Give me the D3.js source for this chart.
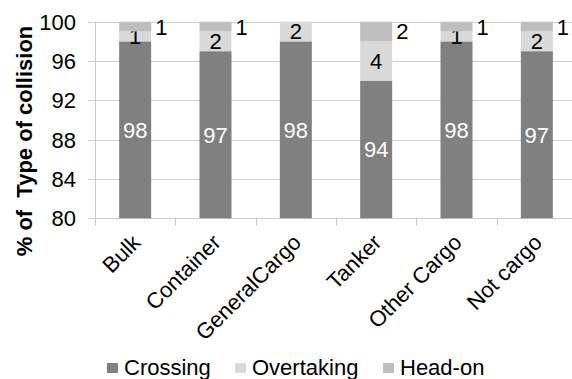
<!DOCTYPE html>
<html>
<head>
<meta charset="utf-8">
<script src="https://cdn.jsdelivr.net/npm/d3@7"></script>
<style>
  html, body { margin: 0; padding: 0; background: #fff; }
  svg { display: block; font-family: Arial, "Liberation Sans", sans-serif; }
</style>
</head>
<body>
<svg id="chart" width="572" height="379"></svg>
<script>
const categories = ["Bulk", "Container", "GeneralCargo", "Tanker", "Other Cargo", "Not cargo"];
const crossing   = [98, 97, 98, 94, 98, 97];
const overtaking = [1, 2, 2, 4, 1, 2];
const headOn     = [1, 1, 0, 2, 1, 1];
const seriesNames = ["Crossing", "Overtaking", "Head-on"];
const seriesColors = ["#808080", "#d9d9d9", "#bfbfbf"];
const yTicks = [80, 84, 88, 92, 96, 100];

const svg = d3.select("#chart");
const margin = { left: 95, top: 21.7, bottom: 218.3 };
const plotRight = 577;
const fs = 22;

const x = d3.scaleBand().domain(categories).range([margin.left, plotRight]).paddingInner(0).paddingOuter(0);
const y = d3.scaleLinear().domain([80, 100]).range([margin.bottom, margin.top]);
const barW = 32;

// gridlines
svg.append("g").selectAll("line").data(yTicks).join("line")
  .attr("x1", margin.left - 7).attr("x2", plotRight)
  .attr("y1", d => Math.round(y(d)) + 0.5).attr("y2", d => Math.round(y(d)) + 0.5)
  .attr("stroke", "#d0d0d0").attr("stroke-width", 1);

// y axis line
svg.append("line").attr("x1", margin.left + 0.5).attr("x2", margin.left + 0.5)
  .attr("y1", y(100)).attr("y2", y(80)).attr("stroke", "#c8c8c8");

// y tick labels
svg.append("g").selectAll("text").data(yTicks).join("text")
  .attr("x", 76).attr("y", d => y(d)).attr("dy", "0.36em")
  .attr("text-anchor", "end").attr("font-size", fs).attr("fill", "#000")
  .text(d => d);

// x axis ticks
const boundaries = categories.map(c => x(c)).concat([plotRight]);
svg.append("g").selectAll("line").data(boundaries).join("line")
  .attr("x1", d => Math.round(d) + 0.5).attr("x2", d => Math.round(d) + 0.5)
  .attr("y1", y(80)).attr("y2", y(80) + 7).attr("stroke", "#c8c8c8");

// stacked data
const rows = categories.map((c, i) => ({ cat: c, Crossing: crossing[i], Overtaking: overtaking[i], "Head-on": headOn[i] }));
const stacked = d3.stack().keys(seriesNames)(rows);
const base = 80;

stacked.forEach((layer, si) => {
  const g = svg.append("g");
  g.selectAll("rect").data(layer).join("rect")
    .attr("x", d => x(d.data.cat) + x.bandwidth() / 2 - barW / 2)
    .attr("width", barW)
    .attr("y", d => y(Math.max(base, d[1])))
    .attr("height", d => Math.max(0, y(Math.max(base, d[0])) - y(Math.max(base, d[1]))))
    .attr("fill", seriesColors[si]);

  const lab = g.selectAll("text").data(layer.filter(d => d[1] - d[0] > 0)).join("text")
    .attr("font-size", fs)
    .attr("dy", "0.36em")
    .attr("y", d => (y(Math.max(base, d[0])) + y(Math.max(base, d[1]))) / 2)
    .text(d => d[1] - d[0]);
  if (si === 2) {
    lab.attr("x", d => x(d.data.cat) + x.bandwidth() / 2 + barW / 2 + 4)
      .attr("text-anchor", "start").attr("fill", "#000");
  } else {
    lab.attr("x", d => x(d.data.cat) + x.bandwidth() / 2)
      .attr("text-anchor", "middle").attr("fill", si === 0 ? "#fff" : "#000");
  }
});

// x labels rotated
svg.append("g").selectAll("text").data(categories).join("text")
  .attr("transform", d => `translate(${x(d) + x.bandwidth() / 2 + 1},${y(80) + 20}) rotate(-45)`)
  .attr("text-anchor", "end").attr("dy", "0.36em")
  .attr("font-size", fs).attr("fill", "#000")
  .text(d => d);

// y axis title
svg.append("text")
  .attr("transform", `translate(32,141) rotate(-90)`)
  .attr("text-anchor", "middle").attr("font-size", fs).attr("font-weight", "bold")
  .attr("fill", "#000")
  .style("white-space", "pre")
  .text("% of  Type of collision");

// legend
const legendX = [107, 235, 383];
const lg = svg.append("g");
seriesNames.forEach((name, i) => {
  lg.append("rect").attr("x", legendX[i]).attr("y", 363).attr("width", 11).attr("height", 10)
    .attr("fill", seriesColors[i]);
  lg.append("text").attr("x", legendX[i] + 17).attr("y", 375)
    .attr("font-size", fs).attr("fill", "#000").text(name);
});
</script>
</body>
</html>
